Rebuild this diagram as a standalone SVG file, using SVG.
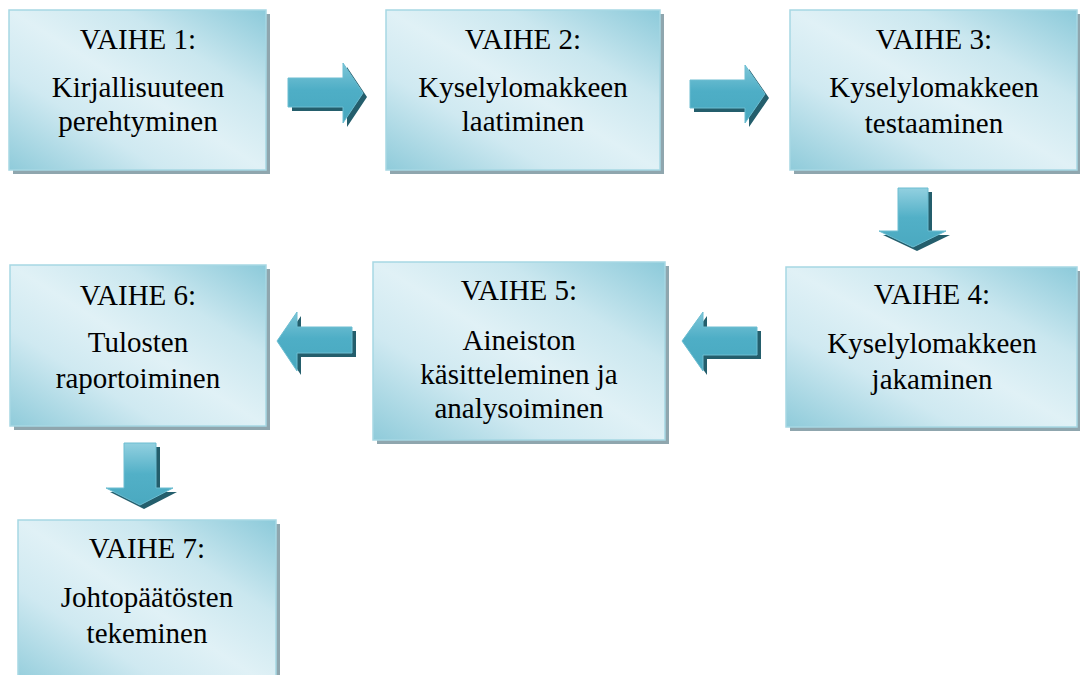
<svg xmlns="http://www.w3.org/2000/svg" width="1080" height="675" viewBox="0 0 1080 675">
  <defs>
    <linearGradient id="boxFill" x1="0" y1="1" x2="1" y2="0">
      <stop offset="0" stop-color="#8fcbda"/>
      <stop offset="0.3" stop-color="#cfe9f1"/>
      <stop offset="0.5" stop-color="#e0f1f6"/>
      <stop offset="0.72" stop-color="#cae7ef"/>
      <stop offset="1" stop-color="#8ccada"/>
    </linearGradient>
    <linearGradient id="arrowH" x1="0" y1="0" x2="0" y2="1">
      <stop offset="0" stop-color="#7ec6d8"/>
      <stop offset="0.45" stop-color="#4eaec6"/>
      <stop offset="1" stop-color="#48a8bf"/>
    </linearGradient>
    <linearGradient id="arrowV" x1="0" y1="0" x2="0" y2="1">
      <stop offset="0" stop-color="#92d0e0"/>
      <stop offset="0.5" stop-color="#52b0c7"/>
      <stop offset="1" stop-color="#4aa9c0"/>
    </linearGradient>
  </defs>
  <style>
    .shadow { fill: #8fa6ae; }
    .box { fill: url(#boxFill); stroke: #a6d7e3; stroke-width: 1.5; }
    .ashadow { fill: #245e6c; }
    .ah { fill: url(#arrowH); stroke: #6cbdd1; stroke-width: 1; }
    .av { fill: url(#arrowV); stroke: #6cbdd1; stroke-width: 1; }
    .lbl { font-size: 29px; fill: #000; text-anchor: middle; }
  </style>
  <rect width="1080" height="675" fill="#ffffff"/>

  <!-- block arrows between the phases, each with a dark drop shadow -->
  <g id="connectors">
    <!-- 1 -> 2 -->
    <g transform="translate(4,4)" class="ashadow"><polygon points="288,78 343,78 343,63 363,93 343,123 343,107 288,107"/></g>
    <polygon class="ah" points="288,78 343,78 343,63 363,93 343,123 343,107 288,107"/>
    <!-- 2 -> 3 -->
    <g transform="translate(4,4)" class="ashadow"><polygon points="690,80 745,80 745,65 765,94 745,123 745,108 690,108"/></g>
    <polygon class="ah" points="690,80 745,80 745,65 765,94 745,123 745,108 690,108"/>
    <!-- 3 -> 4 -->
    <g transform="translate(4,4)" class="ashadow"><polygon points="898,188 928,188 928,231 946,231 913,247 879,231 898,231"/></g>
    <polygon class="av" points="898,188 928,188 928,231 946,231 913,247 879,231 898,231"/>
    <!-- 4 -> 5 -->
    <g transform="translate(4,4)" class="ashadow"><polygon points="757,327 703,327 703,312 682,341 703,371 703,355 757,355"/></g>
    <polygon class="ah" points="757,327 703,327 703,312 682,341 703,371 703,355 757,355"/>
    <!-- 5 -> 6 -->
    <g transform="translate(4,4)" class="ashadow"><polygon points="352,327 297,327 297,312 277,341 297,371 297,353 352,353"/></g>
    <polygon class="ah" points="352,327 297,327 297,312 277,341 297,371 297,353 352,353"/>
    <!-- 6 -> 7 -->
    <g transform="translate(4,4)" class="ashadow"><polygon points="124,443 156,443 156,488 173,488 140,505 106,488 124,488"/></g>
    <polygon class="av" points="124,443 156,443 156,488 173,488 140,505 106,488 124,488"/>
  </g>

  <g font-family="'Liberation Serif', 'Times New Roman', serif">
  <g id="vaihe1">
    <rect class="shadow" x="13" y="14" width="257" height="160"/>
    <rect class="box" x="9" y="10" width="257" height="160"/>
    <text class="lbl" x="138" y="49">VAIHE 1:</text>
    <text class="lbl" x="138" y="97">Kirjallisuuteen</text>
    <text class="lbl" x="138" y="131">perehtyminen</text>
  </g>

  <g id="vaihe2">
    <rect class="shadow" x="390" y="14" width="274" height="160"/>
    <rect class="box" x="386" y="10" width="274" height="160"/>
    <text class="lbl" x="523" y="49">VAIHE 2:</text>
    <text class="lbl" x="523" y="97">Kyselylomakkeen</text>
    <text class="lbl" x="523" y="131">laatiminen</text>
  </g>

  <g id="vaihe3">
    <rect class="shadow" x="794" y="14" width="287" height="160"/>
    <rect class="box" x="790" y="10" width="287" height="160"/>
    <text class="lbl" x="934" y="49">VAIHE 3:</text>
    <text class="lbl" x="934" y="97">Kyselylomakkeen</text>
    <text class="lbl" x="934" y="133">testaaminen</text>
  </g>

  <g id="vaihe4">
    <rect class="shadow" x="790" y="271" width="291" height="160"/>
    <rect class="box" x="786" y="267" width="291" height="160"/>
    <text class="lbl" x="932" y="304">VAIHE 4:</text>
    <text class="lbl" x="932" y="353">Kyselylomakkeen</text>
    <text class="lbl" x="932" y="389">jakaminen</text>
  </g>

  <g id="vaihe5">
    <rect class="shadow" x="377" y="266" width="292" height="178"/>
    <rect class="box" x="373" y="262" width="292" height="178"/>
    <text class="lbl" x="519" y="300">VAIHE 5:</text>
    <text class="lbl" x="519" y="350">Aineiston</text>
    <text class="lbl" x="519" y="384">käsitteleminen ja</text>
    <text class="lbl" x="519" y="418">analysoiminen</text>
  </g>

  <g id="vaihe6">
    <rect class="shadow" x="14" y="269" width="256" height="161"/>
    <rect class="box" x="10" y="265" width="256" height="161"/>
    <text class="lbl" x="138" y="305">VAIHE 6:</text>
    <text class="lbl" x="138" y="352">Tulosten</text>
    <text class="lbl" x="138" y="388">raportoiminen</text>
  </g>

  <g id="vaihe7">
    <rect class="shadow" x="22" y="524" width="258" height="170"/>
    <rect class="box" x="18" y="520" width="258" height="170"/>
    <text class="lbl" x="147" y="558">VAIHE 7:</text>
    <text class="lbl" x="147" y="607">Johtopäätösten</text>
    <text class="lbl" x="147" y="643">tekeminen</text>
  </g>
  </g>
</svg>
